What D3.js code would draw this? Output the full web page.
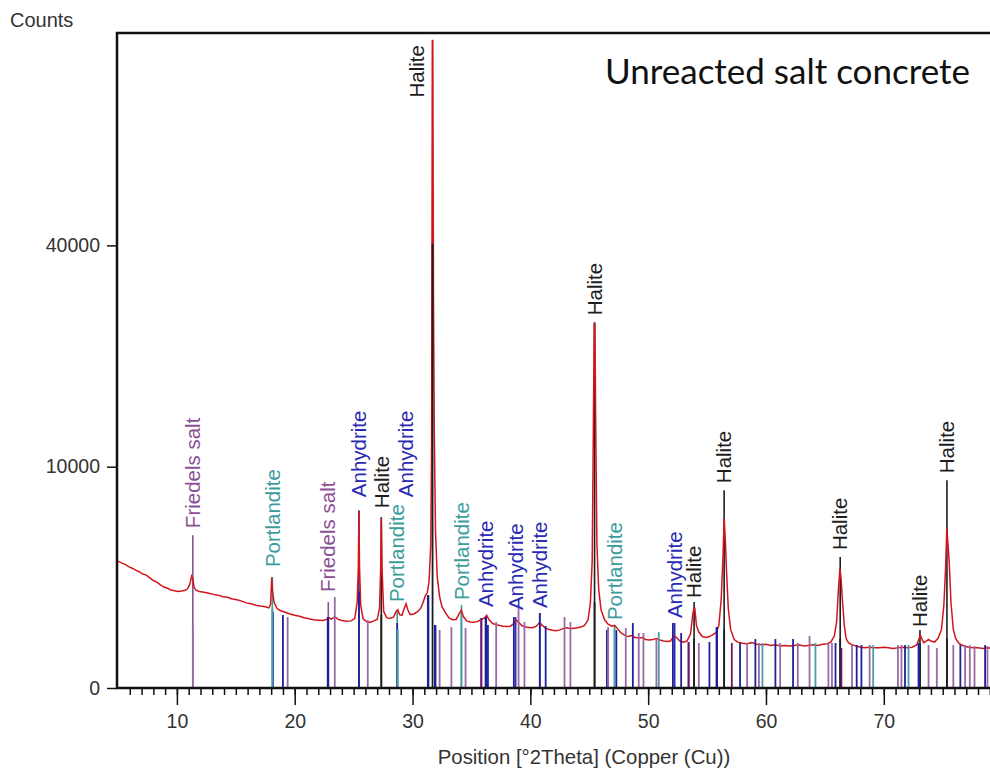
<!DOCTYPE html>
<html>
<head>
<meta charset="utf-8">
<script src="https://cdn.jsdelivr.net/npm/d3@7"></script>
<style>
  body { margin: 0; background: #fff; }
  svg { display: block; }
  .tick text { font-family: "Liberation Sans", Arial, sans-serif; font-size: 19.5px; fill: #333; }
  .tick line { stroke: #111; stroke-width: 1.5; }
  .lbl { font-family: "Liberation Sans", Arial, sans-serif; font-size: 20.5px; }
</style>
</head>
<body>
<svg id="chart" width="990" height="771"></svg>
<script>
// measured pattern: [2theta, counts]
var profile = [
  [5.0,3290],[5.3,3200],[5.6,3120],[5.9,3010],[6.2,2930],[6.5,2840],[6.8,2760],[7.1,2650],[7.4,2600],[7.7,2480],
  [8.0,2360],[8.3,2290],[8.6,2170],[8.9,2080],[9.2,2030],[9.5,1960],[9.8,1930],[10.1,1900],[10.4,1920],[10.7,1950],
  [10.9,2010],[11.1,2200],[11.25,2560],[11.35,2450],[11.45,2080],[11.6,1960],[11.9,1900],[12.3,1870],[12.7,1830],
  [13.1,1790],[13.5,1760],[13.9,1700],[14.3,1680],[14.7,1620],[15.1,1590],[15.5,1540],[15.9,1480],[16.3,1450],
  [16.7,1400],[17.1,1370],[17.5,1350],[17.8,1310],[17.95,1420],[18.05,2500],[18.12,1900],[18.25,1500],[18.5,1290],
  [18.8,1220],[19.2,1170],[19.6,1120],[20.0,1080],[20.4,1050],[20.8,1010],[21.2,980],[21.6,950],[22.0,940],
  [22.4,930],[22.7,960],[22.9,1010],[23.1,970],[23.4,1030],[23.7,960],[24.0,930],[24.4,910],[24.8,920],[25.1,990],
  [25.3,1500],[25.4,3000],[25.45,6400],[25.5,3000],[25.6,1400],[25.8,980],[26.1,900],[26.4,880],[26.7,920],
  [27.0,960],[27.2,1300],[27.3,3000],[27.35,5900],[27.42,2800],[27.55,1200],[27.8,1010],[28.1,990],[28.4,1030],
  [28.6,1200],[28.75,1250],[28.9,1100],[29.1,1080],[29.3,1300],[29.45,1450],[29.6,1250],[29.8,1100],[30.1,1120],
  [30.4,1180],[30.7,1300],[30.9,1500],[31.1,1750],[31.25,1850],[31.4,2300],[31.55,4200],[31.62,12000],
  [31.68,85600],[31.72,85600],[31.78,30000],[31.85,13000],[31.95,5000],[32.1,2500],[32.3,1700],[32.5,1350],
  [32.8,1150],[33.1,1000],[33.4,950],[33.7,960],[34.0,1150],[34.15,1240],[34.3,1050],[34.6,920],[34.9,890],
  [35.2,880],[35.5,900],[35.8,950],[36.1,1000],[36.3,1080],[36.5,950],[36.8,850],[37.1,820],[37.4,800],[37.7,780],
  [38.0,770],[38.3,780],[38.6,850],[38.8,940],[39.0,880],[39.3,790],[39.6,760],[39.9,750],[40.2,740],[40.5,780],
  [40.8,880],[41.0,800],[41.3,730],[41.6,700],[41.9,680],[42.2,670],[42.5,690],[42.8,720],[43.1,740],[43.4,720],
  [43.7,730],[44.0,740],[44.3,760],[44.6,800],[44.9,950],[45.1,1500],[45.25,3300],[45.35,14000],[45.42,27000],
  [45.48,27000],[45.55,14000],[45.65,4200],[45.8,2000],[46.0,1250],[46.3,950],[46.6,830],[46.9,780],[47.15,800],
  [47.4,720],[47.7,620],[48.0,570],[48.3,540],[48.6,560],[48.9,520],[49.2,510],[49.5,520],[49.8,480],[50.1,470],
  [50.4,480],[50.7,500],[51.0,470],[51.3,450],[51.6,440],[51.9,450],[52.2,560],[52.4,520],[52.7,450],[53.0,430],
  [53.3,450],[53.6,600],[53.8,1150],[53.95,1330],[54.1,800],[54.3,640],[54.6,540],[54.9,520],[55.2,540],
  [55.5,580],[55.8,640],[56.0,800],[56.2,1600],[56.35,3500],[56.45,5900],[56.55,4500],[56.65,2800],[56.8,1300],
  [57.0,700],[57.3,480],[57.6,430],[58.0,410],[58.4,400],[58.8,420],[59.2,390],[59.6,380],[60.0,390],[60.4,370],
  [60.8,380],[61.2,360],[61.6,370],[62.0,360],[62.4,370],[62.8,380],[63.2,360],[63.6,370],[64.0,380],[64.4,370],
  [64.8,390],[65.2,400],[65.5,430],[65.8,550],[66.0,900],[66.15,2000],[66.28,2930],[66.38,2400],[66.5,1500],
  [66.65,800],[66.8,500],[67.0,420],[67.3,380],[67.7,360],[68.0,340],[68.4,330],[68.8,340],[69.2,330],[69.6,330],
  [70.0,340],[70.4,330],[70.8,320],[71.2,330],[71.6,340],[72.0,330],[72.4,340],[72.8,380],[73.0,500],[73.1,570],
  [73.25,480],[73.4,420],[73.6,450],[73.8,480],[74.0,450],[74.3,430],[74.6,500],[74.9,700],[75.1,1400],
  [75.25,3000],[75.35,5200],[75.45,4200],[75.55,3300],[75.7,1500],[75.9,700],[76.1,500],[76.4,400],[76.8,360],
  [77.2,340],[77.6,330],[78.0,330],[78.4,320],[78.8,330],[79.2,320],[79.6,330],[80.0,320]
]

// reference sticks per phase: [2theta, counts]
var haliteSticks = [[27.35,1100],[31.7,40300],[45.45,1500],[53.9,500],[56.45,700],[66.3,500],[73.07,400],[75.36,500]]
var anhydriteSticks = [
  [18.15,1177],[19.0,1086],[22.8,1027],[22.85,1027],[25.45,1900],[28.7,861],[31.3,1763],[31.35,1763],[31.9,809],[31.95,809],
  [36.2,1027],[36.25,1027],[36.4,809],[38.6,1027],[40.8,1147],[41.3,783],[46.5,686],[47.3,686],[48.7,861],
  [52.1,861],[52.8,617],[55.2,431],[55.8,758],[55.85,758],[57.8,413],[59.1,489],[60.8,489],[62.3,489],[65.9,413],
  [67.7,377],[68.1,377],[71.8,377],[73.0,413],[72.95,413],[76.5,377],[78.6,377]
]
var portlanditeSticks = [[18.1,1300],[28.75,700],[34.15,1100],[47.15,700],[50.9,639],[59.7,413],[64.2,413],[69.1,377],[72.1,377]]
var friedelSticks = [
  [11.35,800],[19.4,1027],[23.4,1688],[26.2,942],[32.3,686],[33.3,758],[34.5,734],[35.8,999],[37.1,888],[39.0,1304],
  [39.5,888],[42.9,1027],[43.4,888],[46.6,758],[48.1,734],[49.2,617],[49.6,617],[50.7,470],[53.4,431],[54.3,413],
  [58.4,413],[59.4,413],[61.2,413],[62.7,413],[63.7,551],[65.3,413],[65.6,413],[67.3,377],[68.8,377],[71.2,377],
  [71.5,377],[73.8,377],[74.5,326],[75.9,377],[76.9,377],[77.3,377],[77.7,360],[78.8,360]
]
var otherSticks = [[57.1,413],[66.4,326],[35.85,999],[53.45,431]]

// peak labels: line position, text position, line top (counts), text bottom (counts)
var peakLabels = [
  { pos: 11.35, at: 11.35, name: "Friedels salt", phase: "friedel", top: 4771, text: 5218 },
  { pos: 18.1, at: 18.1, name: "Portlandite", phase: "portlandite", top: 2511, text: 2984 },
  { pos: 22.85, at: 22.85, name: "Friedels salt", phase: "friedel", top: 1507, text: 1878 },
  { pos: 25.45, at: 25.45, name: "Anhydrite", phase: "anhydrite", top: 6458, text: 7435 },
  { pos: 27.35, at: 27.35, name: "Halite", phase: "halite", top: 5960, text: 6604 },
  { pos: 28.7, at: 28.7, name: "Portlandite", phase: "portlandite", top: 1240, text: 1507 },
  { pos: null, at: 29.45, name: "Anhydrite", phase: "anhydrite", top: null, text: 7435 },
  { pos: null, at: 30.35, name: "Halite", phase: "halite", top: null, text: 71190 },
  { pos: 34.15, at: 34.15, name: "Portlandite", phase: "portlandite", top: 1404, text: 1578 },
  { pos: 36.25, at: 36.25, name: "Anhydrite", phase: "anhydrite", top: 1057, text: 1337 },
  { pos: 38.75, at: 38.75, name: "Anhydrite", phase: "anhydrite", top: 1027, text: 1240 },
  { pos: 40.8, at: 40.8, name: "Anhydrite", phase: "anhydrite", top: 1147, text: 1304 },
  { pos: 45.45, at: 45.45, name: "Halite", phase: "halite", top: 27300, text: 28360 },
  { pos: 47.15, at: 47.15, name: "Portlandite", phase: "portlandite", top: 809, text: 942 },
  { pos: 52.25, at: 52.25, name: "Anhydrite", phase: "anhydrite", top: 861, text: 999 },
  { pos: 53.9, at: 53.9, name: "Halite", phase: "halite", top: 1507, text: 1651 },
  { pos: 56.45, at: 56.45, name: "Halite", phase: "halite", top: 7990, text: 8566 },
  { pos: 66.3, at: 66.3, name: "Halite", phase: "halite", top: 3498, text: 3882 },
  { pos: 73.07, at: 73.07, name: "Halite", phase: "halite", top: 686, text: 758 },
  { pos: 75.36, at: 75.36, name: "Halite", phase: "halite", top: 8818, text: 9422 }
]

var yTicks = [0, 10000, 40000]
var xMajor = [10, 20, 30, 40, 50, 60, 70]

var colors = {
  halite: "#1e1e1e",
  anhydrite: "#2a2ab4",
  portlandite: "#3c9c9c",
  friedel: "#8c4f94",
  other: "#6e1262"
}
var stickColors = {
  halite: "#1e1e1e",
  anhydrite: "#20209a",
  portlandite: "#4a9ea6",
  friedel: "#9a6aa6",
  other: "#6e1262"
}

var svg = d3.select("#chart")
var plotLeft = 118, plotTop = 33, plotBottom = 688

var xScale = d3.scaleLinear().domain([5, 80]).range([plotLeft, 1001.6])
var yScale = d3.scaleSqrt().domain([0, 87600]).range([plotBottom, plotTop])

svg.append("rect").attr("width", 990).attr("height", 771).attr("fill", "#fff")

// label lines
svg.selectAll(".lblline")
    .data(peakLabels.filter(d => d.pos != null))
    .enter().append("line")
    .attr("class", "lblline")
    .attr("x1", d => xScale(d.pos)).attr("x2", d => xScale(d.pos))
    .attr("y1", d => yScale(d.top)).attr("y2", yScale(0))
    .attr("stroke", d => colors[d.phase])
    .attr("stroke-width", 1.6)

// profile
var line = d3.line()
    .x(d => xScale(d[0]))
    .y(d => yScale(d[1]))

svg.append("path")
    .datum(profile)
    .attr("d", line)
    .attr("fill", "none")
    .attr("stroke", "#d0161c")
    .attr("stroke-width", 1.5)

// reference sticks
var sticks = []
haliteSticks.forEach(d => sticks.push({ x: d[0], y: d[1], phase: "halite" }))
anhydriteSticks.forEach(d => sticks.push({ x: d[0], y: d[1], phase: "anhydrite" }))
portlanditeSticks.forEach(d => sticks.push({ x: d[0], y: d[1], phase: "portlandite" }))
friedelSticks.forEach(d => sticks.push({ x: d[0], y: d[1], phase: "friedel" }))
otherSticks.forEach(d => sticks.push({ x: d[0], y: d[1], phase: "other" }))

svg.selectAll(".stick")
    .data(sticks)
    .enter().append("line")
    .attr("class", "stick")
    .attr("x1", d => xScale(d.x)).attr("x2", d => xScale(d.x))
    .attr("y1", d => yScale(d.y)).attr("y2", yScale(0))
    .attr("stroke", d => stickColors[d.phase])
    .attr("stroke-width", 1.8)

// peak label text
svg.selectAll(".lbl")
    .data(peakLabels)
    .enter().append("text")
    .attr("class", "lbl")
    .attr("transform", d => "translate(" + xScale(d.at) + "," + yScale(d.text) + ") rotate(-90)")
    .attr("dy", "0.35em")
    .attr("fill", d => colors[d.phase])
    .text(d => d.name)

// axes
svg.append("g")
    .attr("transform", "translate(0," + plotBottom + ")")
    .call(d3.axisBottom(xScale).tickValues(d3.range(6, 81)).tickSize(7).tickFormat(""))
    .call(g => g.select(".domain").remove())

svg.append("g")
    .attr("transform", "translate(0," + plotBottom + ")")
    .call(d3.axisBottom(xScale).tickValues(xMajor).tickSize(17).tickPadding(9).tickFormat(d3.format("d")))
    .call(g => g.select(".domain").remove())

svg.append("g")
    .attr("transform", "translate(" + (plotLeft - 1) + ",0)")
    .call(d3.axisLeft(yScale).tickValues(yTicks).tickSize(10).tickPadding(7).tickFormat(d3.format("d")))
    .call(g => g.select(".domain").remove())

// frame
svg.append("path")
    .attr("d", "M990," + plotTop + "H" + (plotLeft - 1) + "V" + plotBottom + "H990")
    .attr("fill", "none")
    .attr("stroke", "#111")
    .attr("stroke-width", 2.5)

svg.append("text")
    .attr("x", 10).attr("y", 27)
    .attr("font-family", "Liberation Sans, Arial, sans-serif")
    .attr("font-size", 20)
    .attr("fill", "#333")
    .text("Counts")

svg.append("text")
    .attr("x", 584).attr("y", 764)
    .attr("text-anchor", "middle")
    .attr("font-family", "Liberation Sans, Arial, sans-serif")
    .attr("font-size", 20.4)
    .attr("fill", "#333")
    .text("Position [°2Theta] (Copper (Cu))")

svg.append("text")
    .attr("x", 605).attr("y", 84)
    .attr("font-family", "Lato, Open Sans, sans-serif")
    .attr("font-size", 35)
    .attr("fill", "#111")
    .text("Unreacted salt concrete")
</script>
</body>
</html>
